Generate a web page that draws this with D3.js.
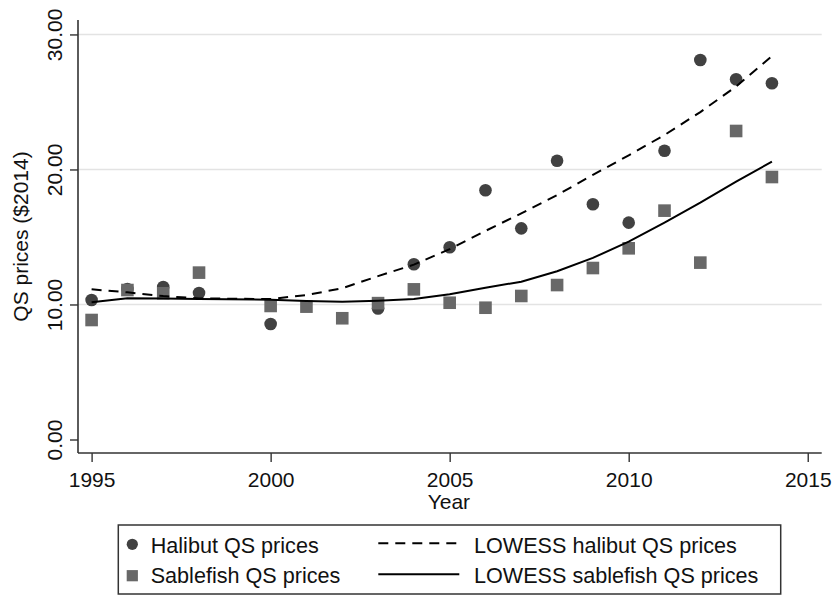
<!DOCTYPE html>
<html>
<head>
<meta charset="utf-8">
<script src="https://cdn.jsdelivr.net/npm/d3@7/dist/d3.min.js"></script>
<style>
  html, body { margin: 0; padding: 0; background: #fff; }
  svg { display: block; font-family: "Liberation Sans", Arial, sans-serif; }
</style>
</head>
<body>
<svg id="chart" width="833" height="596"></svg>
<script>
// ---- data ----
const halibutYears = [1995, 1996, 1997, 1998, 2000, 2003, 2004, 2005, 2006, 2007, 2008, 2009, 2010, 2011, 2012, 2013, 2014];
const halibutPrices = [10.33, 11.15, 11.3, 10.85, 8.55, 9.7, 12.98, 14.24, 18.46, 15.64, 20.65, 17.42, 16.06, 21.39, 28.11, 26.68, 26.38];

const sablefishYears = [1995, 1996, 1997, 1998, 2000, 2001, 2002, 2003, 2004, 2005, 2006, 2007, 2008, 2009, 2010, 2011, 2012, 2013, 2014];
const sablefishPrices = [8.85, 11.07, 10.83, 12.36, 9.89, 9.84, 8.98, 10.1, 11.12, 10.13, 9.76, 10.63, 11.44, 12.7, 14.16, 16.95, 13.1, 22.85, 19.44];

const lowessYears = [1995, 1996, 1997, 1998, 2000, 2001, 2002, 2003, 2004, 2005, 2006, 2007, 2008, 2009, 2010, 2011, 2012, 2013, 2014];
const lowessHalibut = [11.12, 10.9, 10.62, 10.45, 10.4, 10.7, 11.2, 12.1, 12.95, 14.1, 15.45, 16.75, 18.1, 19.6, 21.05, 22.55, 24.25, 26.15, 28.4];
const lowessSablefish = [10.16, 10.46, 10.44, 10.4, 10.35, 10.25, 10.2, 10.28, 10.4, 10.75, 11.24, 11.69, 12.46, 13.45, 14.65, 16.06, 17.54, 19.1, 20.58];

const xTicks = [1995, 2000, 2005, 2010, 2015];
const yTicks = [0, 10, 20, 30];

const legendItems = [
  { label: "Halibut QS prices", kind: "circle" },
  { label: "Sablefish QS prices", kind: "square" },
  { label: "LOWESS halibut QS prices", kind: "dash" },
  { label: "LOWESS sablefish QS prices", kind: "solid" }
];

// ---- layout ----
const svg = d3.select("#chart");
const plot = { left: 78, right: 821.7, top: 20, bottom: 453 };
const x = d3.scaleLinear().domain([1994.62, 2015.39]).range([plot.left, plot.right]);
const y = d3.scaleLinear().domain([-1.0, 31.07]).range([plot.bottom, plot.top]);

const FONT = 21;
const LEGEND_FONT = 21.6;
const axisColor = "#333";

// gridlines
svg.append("g").selectAll("line")
  .data(yTicks.filter(d => d > 0))
  .join("line")
  .attr("x1", plot.left).attr("x2", plot.right)
  .attr("y1", d => y(d)).attr("y2", d => y(d))
  .attr("stroke", "#e3e3e3").attr("stroke-width", 1.6);

// y axis
const yAxis = d3.axisLeft(y).tickValues(yTicks).tickSize(8).tickPadding(0)
  .tickFormat(d3.format(".2f"));
const gy = svg.append("g").attr("transform", `translate(${plot.left},0)`).call(yAxis);
gy.select(".domain").attr("d", `M0,${plot.top}V${plot.bottom}`).attr("stroke", axisColor).attr("stroke-width", 1.6);
gy.selectAll(".tick line").attr("stroke", axisColor).attr("stroke-width", 1.4);
gy.selectAll(".tick text")
  .attr("font-size", FONT).attr("fill", "#111")
  .attr("font-family", "Liberation Sans, Arial, sans-serif")
  .attr("text-anchor", "middle").attr("dy", null).attr("x", null)
  .attr("transform", "translate(-16,0) rotate(-90)");

// x axis
const xAxis = d3.axisBottom(x).tickValues(xTicks).tickSize(9).tickPadding(0).tickFormat(d3.format("d"));
const gx = svg.append("g").attr("transform", `translate(0,${plot.bottom})`).call(xAxis);
gx.select(".domain").attr("d", `M${plot.left},0H${plot.right}`).attr("stroke", axisColor).attr("stroke-width", 1.6);
gx.selectAll(".tick line").attr("stroke", axisColor).attr("stroke-width", 1.4);
gx.selectAll(".tick text")
  .attr("font-size", FONT).attr("fill", "#111")
  .attr("font-family", "Liberation Sans, Arial, sans-serif")
  .attr("dy", null).attr("y", 33.5);

// axis titles
svg.append("text")
  .attr("x", (plot.left + plot.right) / 2 - 1).attr("y", 508.5)
  .attr("text-anchor", "middle").attr("font-size", FONT).attr("fill", "#111")
  .text("Year");
svg.append("text")
  .attr("transform", `translate(28,${(plot.top + plot.bottom) / 2}) rotate(-90)`)
  .attr("text-anchor", "middle").attr("font-size", FONT).attr("fill", "#111")
  .text("QS prices ($2014)");

// markers
const halibut = halibutYears.map((yr, i) => ({ x: yr, y: halibutPrices[i] }));
const sablefish = sablefishYears.map((yr, i) => ({ x: yr, y: sablefishPrices[i] }));

svg.append("g").selectAll("circle").data(halibut).join("circle")
  .attr("cx", d => x(d.x)).attr("cy", d => y(d.y)).attr("r", 6.3)
  .attr("fill", "#414141");

const sq = 12.6;
svg.append("g").selectAll("rect").data(sablefish).join("rect")
  .attr("x", d => x(d.x) - sq / 2).attr("y", d => y(d.y) - sq / 2)
  .attr("width", sq).attr("height", sq)
  .attr("fill", "#686868");

// lowess lines
const line = d3.line().x(d => x(d.x)).y(d => y(d.y));
svg.append("path")
  .datum(lowessYears.map((yr, i) => ({ x: yr, y: lowessHalibut[i] })))
  .attr("d", line).attr("fill", "none").attr("stroke", "#000")
  .attr("stroke-width", 2).attr("stroke-dasharray", "10,7");
svg.append("path")
  .datum(lowessYears.map((yr, i) => ({ x: yr, y: lowessSablefish[i] })))
  .attr("d", line).attr("fill", "none").attr("stroke", "#000")
  .attr("stroke-width", 2);

// legend
const lg = svg.append("g");
lg.append("rect")
  .attr("x", 118.3).attr("y", 525).attr("width", 662.4).attr("height", 69)
  .attr("fill", "#fff").attr("stroke", "#333").attr("stroke-width", 1.5);

const rowBase = [552.5, 582.5];
const symY = [544.3, 575.7];
legendItems.forEach((it, i) => {
  const col = i < 2 ? 0 : 1;
  const row = i % 2;
  if (it.kind === "circle") {
    lg.append("circle").attr("cx", 132.3).attr("cy", symY[row]).attr("r", 5.6).attr("fill", "#414141");
  } else if (it.kind === "square") {
    lg.append("rect").attr("x", 132.3 - 5.6).attr("y", symY[row] - 5.6).attr("width", 11.2).attr("height", 11.2).attr("fill", "#686868");
  } else {
    const ly = row === 0 ? 543.3 : 574.3;
    const l = lg.append("line").attr("x1", 378.3).attr("x2", 459.3).attr("y1", ly).attr("y2", ly)
      .attr("stroke", "#000").attr("stroke-width", 2);
    if (it.kind === "dash") l.attr("stroke-dasharray", "10,7");
  }
  lg.append("text")
    .attr("x", col === 0 ? 150.7 : 474).attr("y", rowBase[row])
    .attr("font-size", LEGEND_FONT).attr("fill", "#111")
    .text(it.label);
});
</script>
</body>
</html>
